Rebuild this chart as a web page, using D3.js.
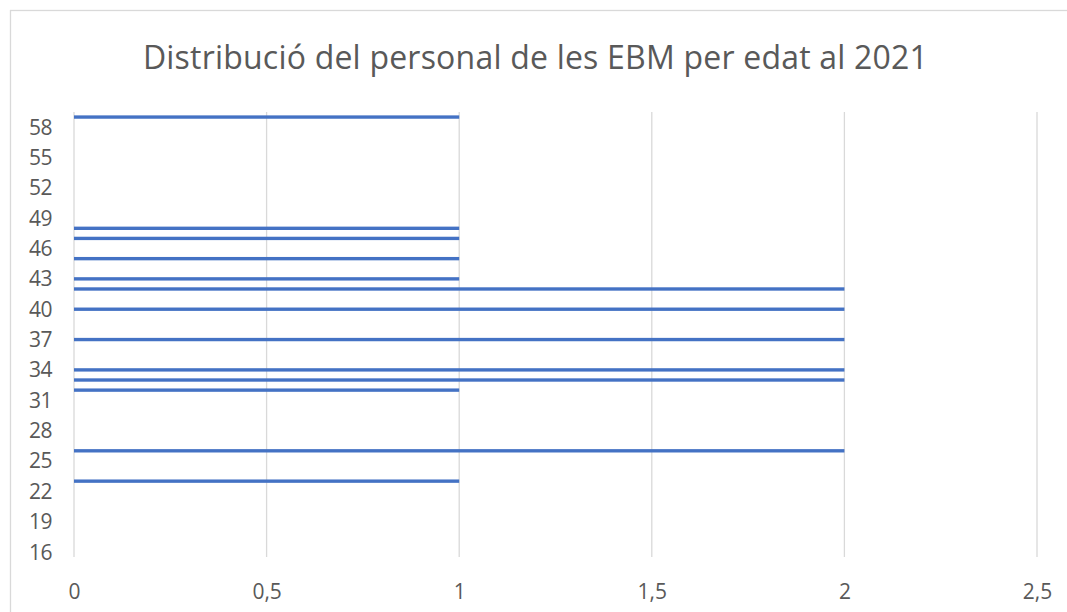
<!DOCTYPE html>
<html>
<head>
<meta charset="utf-8">
<script src="https://cdn.jsdelivr.net/npm/d3@7"></script>
<style>
  html, body { margin: 0; padding: 0; background: #fff; }
  svg { display: block; }
</style>
</head>
<body>
<svg id="chart" width="1067" height="612"></svg>
<script>
// ---- data ----
const title = "Distribució del personal de les EBM per edat al 2021";
const ages = [16,17,18,19,20,21,22,23,24,25,26,27,28,29,30,31,32,33,34,35,36,37,38,39,40,41,42,43,44,45,46,47,48,49,50,51,52,53,54,55,56,57,58,59];
const counts = [0,0,0,0,0,0,0,1,0,0,2,0,0,0,0,0,1,2,2,0,0,2,0,0,2,0,2,1,0,1,0,1,1,0,0,0,0,0,0,0,0,0,0,1];
const yTickLabels = [16,19,22,25,28,31,34,37,40,43,46,49,52,55,58];
const xTickValues = [0,0.5,1,1.5,2,2.5];

const data = ages.map((a, i) => ({ age: a, value: counts[i] }));

const svg = d3.select("#chart");
const plot = { left: 74, right: 1037, top: 112, bottom: 557 };
const textColor = "#595959";
const gridColor = "#D9D9D9";
const barColor = "#4472C4";
const font = "'Open Sans', 'Noto Sans', 'Liberation Sans', sans-serif";

// chart border
svg.append("rect")
  .attr("x", 10.5).attr("y", 10.5)
  .attr("width", 1200).attr("height", 800)
  .attr("fill", "#fff").attr("stroke", gridColor).attr("stroke-width", 1.3);

const x = d3.scaleLinear().domain([0, 2.5]).range([plot.left, plot.right]);
const y = d3.scaleBand()
  .domain(ages.slice().reverse())
  .range([plot.top, plot.bottom])
  .paddingInner(2/3).paddingOuter(1/3);

// gridlines
svg.append("g")
  .selectAll("line")
  .data(xTickValues)
  .join("line")
  .attr("x1", d => x(d)).attr("x2", d => x(d))
  .attr("y1", plot.top).attr("y2", plot.bottom)
  .attr("stroke", gridColor).attr("stroke-width", 1.3);

// bars
svg.append("g")
  .selectAll("rect")
  .data(data.filter(d => d.value > 0))
  .join("rect")
  .attr("x", x(0))
  .attr("y", d => y(d.age))
  .attr("width", d => x(d.value) - x(0))
  .attr("height", y.bandwidth())
  .attr("fill", barColor);

// x axis labels
const fmt = d => String(d).replace(".", ",");
const xAxis = d3.axisBottom(x).tickValues(xTickValues).tickFormat(fmt).tickSize(0).tickPadding(0);
const gx = svg.append("g").attr("transform", `translate(0, ${plot.bottom})`).call(xAxis);
gx.select(".domain").remove();
gx.attr("font-size", null).attr("font-family", null);
gx.selectAll("text")
  .attr("y", 34)
  .attr("dy", "0.36em")
  .attr("fill", textColor)
  .style("font-family", font)
  .style("font-size", "21px");

// y axis labels
const yAxis = d3.axisLeft(y).tickValues(yTickLabels).tickSize(0).tickPadding(0);
const gy = svg.append("g").attr("transform", `translate(${plot.left}, 0)`).call(yAxis);
gy.select(".domain").remove();
gy.attr("font-size", null).attr("font-family", null);
gy.selectAll("text")
  .attr("x", -22)
  .attr("dy", "0.36em")
  .attr("fill", textColor)
  .style("font-family", font)
  .style("font-size", "21px")
  .style("letter-spacing", "-0.5px");

// title
const t = svg.append("text")
  .attr("x", 535.5).attr("y", 60)
  .attr("text-anchor", "middle")
  .attr("dominant-baseline", "middle")
  .attr("fill", textColor)
  .style("font-family", font)
  .style("font-size", "32px")
  .text(title);
const targetW = 785;
const w = t.node().getComputedTextLength();
if (w > 0) {
  const ls = (targetW - w) / (title.length - 1);
  t.style("letter-spacing", ls.toFixed(3) + "px");
}
</script>
</body>
</html>
